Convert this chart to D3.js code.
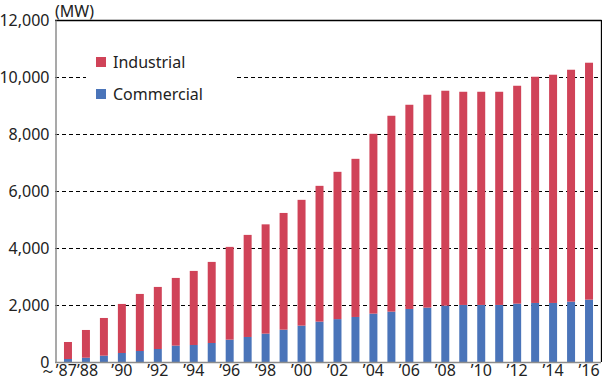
<!DOCTYPE html>
<html><head><meta charset="utf-8">
<script src="https://cdn.jsdelivr.net/npm/d3@7"></script>
<style>body{margin:0;background:#fff}svg{display:block}</style>
</head><body>
<svg id="c" width="602" height="381"></svg>
<script>
const years = ["’87","’88","’89","’90","’91","’92","’93","’94","’95","’96","’97","’98","’99","’00","’01","’02","’03","’04","’05","’06","’07","’08","’09","’10","’11","’12","’13","’14","’15","’16"];
const shownLabels = ["～’87","’88","’90","’92","’94","’96","’98","’00","’02","’04","’06","’08","’10","’12","’14","’16"];
const commercial = [105,150,222,316,386,456,574,597,667,784,878,995,1135,1276,1417,1505,1580,1697,1767,1861,1908,1977,2002,2002,2002,2048,2072,2072,2118,2188];
const totals = [702,1124,1545,2037,2388,2634,2950,3196,3512,4039,4460,4830,5230,5690,6181,6673,7129,8007,8640,9026,9377,9518,9482,9482,9482,9693,10009,10080,10255,10501];
const industrial = totals.map((t,i)=>t-commercial[i]);
const yTicks = [0,2000,4000,6000,8000,10000,12000];
const seriesNames = ["Industrial","Commercial"];
const colors = {Industrial:"#d04358", Commercial:"#4a74b9"};

const svg = d3.select("#c");
const L=55, R=601, T=20, B=362;
const x = d3.scaleBand().domain(years).range([56,601]).paddingInner(10/18).paddingOuter(0.444).align(0.5);
const y = d3.scaleLinear().domain([0,12000]).range([B,T]);
const font = "'Noto Sans', sans-serif";

// gridlines
svg.append("g").selectAll("line").data(yTicks.filter(d=>d>0&&d<12000)).join("line")
  .attr("x1",L).attr("x2",R).attr("y1",d=>Math.round(y(d))+0.5).attr("y2",d=>Math.round(y(d))+0.5)
  .attr("stroke","#000").attr("stroke-width",1.2).attr("stroke-dasharray","4,3");

// legend background
svg.append("rect").attr("x",86).attr("y",44).attr("width",149).attr("height",66).attr("fill","#fff");

// bars
const data = years.map((yr,i)=>({yr, Commercial:commercial[i], Industrial:industrial[i]}));
const stack = d3.stack().keys(["Commercial","Industrial"])(data);
svg.append("g").selectAll("g").data(stack).join("g").attr("fill",d=>colors[d.key])
  .selectAll("rect").data(d=>d).join("rect")
  .attr("x",d=>x(d.data.yr)).attr("width",x.bandwidth())
  .attr("y",d=>y(d[1])).attr("height",d=>y(d[0])-y(d[1]));

// frame
svg.append("line").attr("x1",L).attr("x2",R+0.5).attr("y1",T+0.5).attr("y2",T+0.5).attr("stroke","#000").attr("stroke-width",1.3);
svg.append("line").attr("x1",R+0.5).attr("x2",R+0.5).attr("y1",T).attr("y2",B).attr("stroke","#000").attr("stroke-width",1.3);

// axes
const yAxis = svg.append("g").attr("transform",`translate(${L+0.5},0)`)
  .call(d3.axisLeft(y).tickValues(yTicks).tickSize(0).tickPadding(6).tickFormat(d3.format(",")));
yAxis.select(".domain").attr("stroke","#8c8c8c").attr("stroke-width",1.5);
yAxis.selectAll("text").attr("font-family",font).attr("font-size",16).attr("fill","#222");

const xAxis = svg.append("g").attr("transform",`translate(0,${B+0.5})`)
  .call(d3.axisBottom(x).tickSize(0).tickPadding(2).tickValues(years.filter(d=>shownLabels.includes(d)||d==="’87"))
    .tickFormat(d=>d==="’87"?"～’87":d));
xAxis.select(".domain").attr("stroke","#8c8c8c").attr("stroke-width",1.5).attr("d",`M${L},0H${R}`);
xAxis.selectAll("text").attr("font-family",font).attr("font-size",16).attr("fill","#222")
  .attr("text-anchor",d=>d==="’87"?"end":"middle").attr("dx",d=>d==="’87"?"0.55em":d==="’88"?"0.1em":0);

// unit
svg.append("text").attr("x",L).attr("y",17).attr("font-family",font).attr("font-size",16).attr("fill","#222").text("(MW)");

// legend
const lg = svg.append("g").selectAll("g").data(seriesNames).join("g")
  .attr("transform",(d,i)=>`translate(96,${57+i*32})`);
lg.append("rect").attr("width",10).attr("height",10).attr("fill",d=>colors[d]);
lg.append("text").attr("x",17).attr("y",10.5).attr("font-family",font).attr("font-size",16).attr("fill","#222").text(d=>d);
</script>
</body></html>
